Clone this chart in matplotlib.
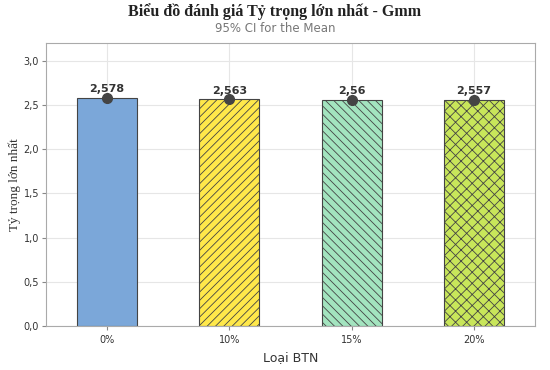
import matplotlib
matplotlib.use("Agg")
import matplotlib.pyplot as plt
from matplotlib.ticker import FuncFormatter

categories = ["0%", "10%", "15%", "20%"]
values = [2.578, 2.563, 2.56, 2.557]
value_labels = ["2,578", "2,563", "2,56", "2,557"]
colors = ["#7BA7D9", "#FFE84A", "#A3E4BF", "#C8E65A"]
hatches = ["", "////", "\\\\\\\\", "xxx"]

plt.rcParams['hatch.linewidth'] = 0.6
plt.rcParams['hatch.color'] = '#333333'

fig = plt.figure(figsize=(5.5, 3.7), dpi=100)
ax = fig.add_axes([46/550, 1-326/370, (535-46)/550, (326-43)/370])

x = list(range(len(categories)))
for i in x:
    ax.bar(i, values[i], width=0.49, color=colors[i], edgecolor="#444444",
           linewidth=0.8, hatch=hatches[i], zorder=2)
ax.plot(x, values, 'o', color="#444444", markersize=7, zorder=4, linestyle='none')
for i in x:
    ax.text(i, values[i] + 0.04, value_labels[i], ha='center', va='bottom',
            fontsize=8, fontweight='bold', color='#333333', zorder=5)

ax.set_xlim(-0.5, 3.5)
ax.set_ylim(0, 3.2)
ax.set_yticks([0, 0.5, 1.0, 1.5, 2.0, 2.5, 3.0])
ax.yaxis.set_major_formatter(FuncFormatter(lambda v, p: f"{v:.1f}".replace('.', ',')))
ax.set_xticks(x)
ax.set_xticklabels(categories)
ax.tick_params(labelsize=7, colors='#333333', length=3, color='#888888')
ax.tick_params(axis='y', pad=2)
ax.grid(True, color='#E6E6E6', linewidth=0.8, zorder=0)
ax.set_axisbelow(True)
for s in ax.spines.values():
    s.set_color('#AAAAAA')
    s.set_linewidth(0.8)

ax.set_xlabel("Loại BTN", fontsize=9, color='#333333', labelpad=4)
ax.set_ylabel("Tỷ trọng lớn nhất", fontsize=9.5, family='Liberation Serif', color='#333333', labelpad=2)

fig.text(0.5, 1-12/370, "Biểu đồ đánh giá Tỷ trọng lớn nhất - Gmm", ha='center', va='center',
         fontsize=11.5, fontweight='bold', family='Liberation Serif', color='#222222')
fig.text(0.5, 1-28/370, "95% CI for the Mean", ha='center', va='center',
         fontsize=8.5, color='#777777')

fig.savefig("out.png", dpi=100)
